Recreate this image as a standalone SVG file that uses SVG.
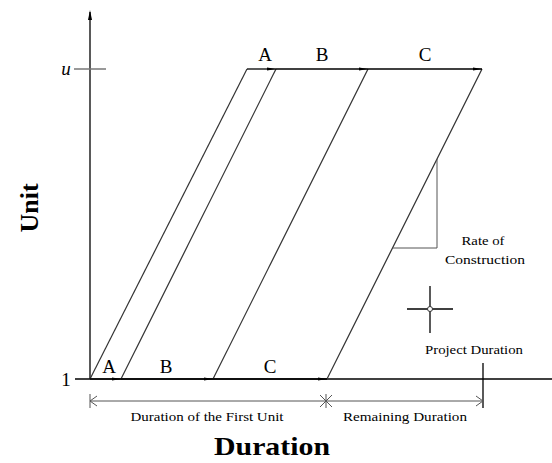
<svg xmlns="http://www.w3.org/2000/svg" width="552" height="463" viewBox="0 0 552 463">
<style>
.ax{stroke:#000;stroke-width:1.3;fill:none}
.ln{stroke:#333;stroke-width:1.2;fill:none}
.gr{stroke:#777;stroke-width:1.5;fill:none}
.dim{stroke:#555;stroke-width:1;fill:none}
.lbl{font-family:"Liberation Serif",serif;font-size:19px;fill:#000;text-anchor:middle}
.sm{font-family:"Liberation Serif",serif;font-size:13px;fill:#000;text-anchor:middle}
.big{font-family:"Liberation Serif",serif;font-size:26px;font-weight:bold;fill:#000;text-anchor:middle}
</style>
<defs>
<marker id="ah" markerWidth="10" markerHeight="6" refX="9" refY="3" orient="auto" markerUnits="userSpaceOnUse">
<path d="M0,1.5 L9,3 L0,4.5 Z" fill="#000"/>
</marker>
</defs>
<rect width="552" height="463" fill="#fff"/>
<g id="axes">
<line class="ax" x1="90" y1="379" x2="90" y2="12"/>
<path d="M88,20 L90,10 L92,20 Z" fill="#000"/>
<line class="ax" x1="75" y1="379" x2="552" y2="379"/>
<line class="gr" x1="74" y1="69" x2="106" y2="69"/>
<text class="lbl" x="66" y="75" font-style="italic">u</text>
<text class="lbl" x="66" y="386" font-size="21">1</text>
</g>
<g id="connectors">
<line class="ln" x1="90" y1="379" x2="247" y2="69"/>
<line class="ln" x1="121" y1="379" x2="276" y2="69"/>
<line class="ln" x1="213" y1="379" x2="368" y2="69"/>
<line class="ln" x1="327" y1="379" x2="482" y2="69"/>
<line class="ax" x1="247" y1="69" x2="276" y2="69" marker-end="url(#ah)"/>
<line class="ax" x1="276" y1="69" x2="368" y2="69" marker-end="url(#ah)"/>
<line class="ax" x1="368" y1="69" x2="482" y2="69" marker-end="url(#ah)"/>
<line class="ax" x1="90" y1="379" x2="121" y2="379" marker-end="url(#ah)"/>
<line class="ax" x1="121" y1="379" x2="213" y2="379" marker-end="url(#ah)"/>
<line class="ax" x1="213" y1="379" x2="327" y2="379" marker-end="url(#ah)"/>
</g>
<g id="labels-top">
<text class="lbl" x="265" y="61">A</text>
<text class="lbl" x="322" y="61">B</text>
<text class="lbl" x="425" y="61">C</text>
</g>
<g id="labels-bottom">
<text class="lbl" x="109" y="373">A</text>
<text class="lbl" x="166" y="373">B</text>
<text class="lbl" x="270" y="373">C</text>
</g>
<g id="rate">
<polyline class="dim" points="437,159 437,248 393,248"/>
<text class="sm" x="483" y="245" textLength="43" lengthAdjust="spacingAndGlyphs">Rate of</text>
<text class="sm" x="485" y="264" textLength="80" lengthAdjust="spacingAndGlyphs">Construction</text>
</g>
<g id="crosshair">
<line class="ax" stroke-width="1" x1="407" y1="309" x2="453" y2="309"/>
<line class="ax" stroke-width="1" x1="430" y1="286" x2="430" y2="333"/>
<circle cx="430" cy="309" r="2.5" fill="#fff" stroke="#333" stroke-width="1"/>
</g>
<g id="project-duration">
<line class="ax" stroke-width="1" x1="483" y1="363" x2="483" y2="408"/>
<text class="sm" x="474" y="354" textLength="98" lengthAdjust="spacingAndGlyphs">Project Duration</text>
</g>
<g id="dimensions">
<line class="dim" x1="90" y1="394" x2="90" y2="408"/>
<line class="dim" x1="90" y1="401" x2="483" y2="401"/>
<path class="dim" d="M97,396 L90,401 L97,406"/>
<path class="dim" d="M476,396 L483,401 L476,406"/>
<path class="dim" stroke="#000" d="M326,394 L326,408 M320,395 L332,407 M332,395 L320,407"/>
<text class="sm" x="207" y="421" textLength="153" lengthAdjust="spacingAndGlyphs">Duration of the First Unit</text>
<text class="sm" x="405" y="421" textLength="124" lengthAdjust="spacingAndGlyphs">Remaining Duration</text>
</g>
<g id="axis-titles">
<text class="big" x="272" y="455" textLength="116" lengthAdjust="spacingAndGlyphs">Duration</text>
<text class="big" transform="translate(38,208) rotate(-90)">Unit</text>
</g>
</svg>
